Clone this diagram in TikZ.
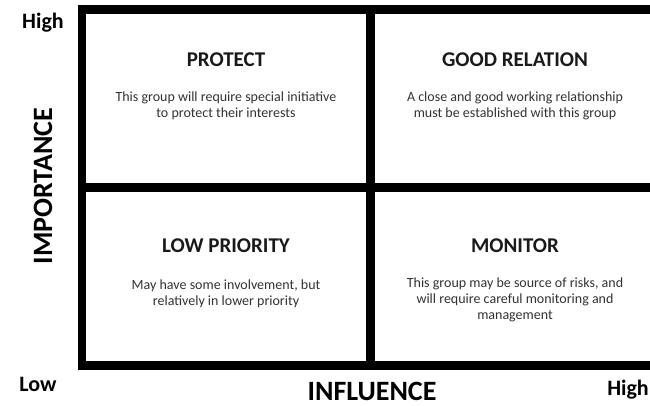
\documentclass[tikz,border=0pt]{standalone}
\usepackage{fontspec}
\setmainfont{Carlito}
\definecolor{bodygray}{RGB}{50,50,50}
\begin{document}
\begin{tikzpicture}[x=1pt,y=-1pt,
  frame/.style={line width=8.5pt,black},
  head/.style={font=\bfseries\fontsize{21}{24}\selectfont,text=black!90},
  blurb/.style={font=\fontsize{14}{16}\selectfont,text=bodygray,align=center},
  axis/.style={font=\bfseries\fontsize{28}{30}\selectfont,inner sep=1pt},
  level/.style={font=\bfseries\fontsize{22}{24}\selectfont,inner sep=1pt}]
  \useasboundingbox (0,0) rectangle (650,406) ;
  \clip (0,0) rectangle (650,406) ;
  % outer frame and the cross
  \coordinate (tl) at (82,9.5) ;
  \coordinate (br) at (659,365.5) ;
  \coordinate (mt) at (370.5,9.5) ;
  \coordinate (mb) at (370.5,365.5) ;
  \coordinate (ml) at (82,187.5) ;
  \coordinate (mr) at (659,187.5) ;
  \draw[frame] (tl) rectangle (br) ;
  \draw[frame] (mt) -- (mb) ;
  \draw[frame] (ml) -- (mr) ;
  % quadrants
  \node[head] (protect) at (226,60) {PROTECT} ;
  \node[blurb] (protecttxt) at (226,106) {This group will require special initiative\\to protect their interests} ;
  \node[head] (good) at (515,60) {GOOD RELATION} ;
  \node[blurb] (goodtxt) at (515,106) {A close and good working relationship\\must be established with this group} ;
  \node[head] (low) at (226,246) {LOW PRIORITY} ;
  \node[blurb] (lowtxt) at (226,294) {May have some involvement, but\\relatively in lower priority} ;
  \node[head] (monitor) at (515,246) {MONITOR} ;
  \node[blurb] (monitortxt) at (515,300) {This group may be source of risks, and\\will require careful monitoring and\\management} ;
  % axes
  \node[axis,rotate=90] (imp) at (43,186) {IMPORTANCE} ;
  \node[axis] (infl) at (372,391) {INFLUENCE} ;
  \node[level] (yhigh) at (43,23) {High} ;
  \node[level] (xlow) at (38,384) {Low} ;
  \node[level] (xhigh) at (628,390) {High} ;
\end{tikzpicture}
\end{document}
